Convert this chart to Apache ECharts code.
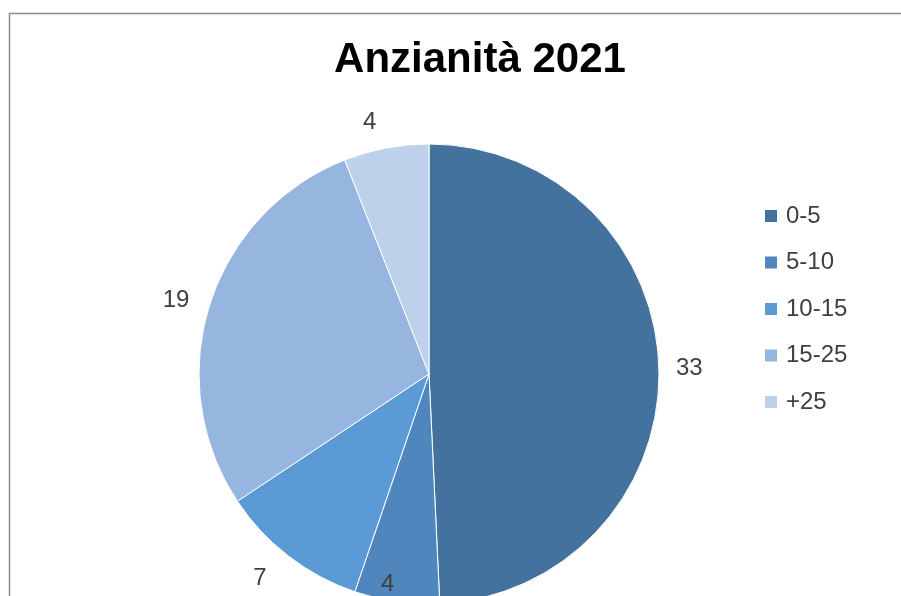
<!DOCTYPE html>
<html>
<head>
<meta charset="utf-8">
<script src="https://cdn.jsdelivr.net/npm/echarts@6/dist/echarts.min.js"></script>
<style>
html,body{margin:0;padding:0;background:#fff;}
#chart{width:901px;height:596px;}
</style>
</head>
<body>
<div id="chart"></div>
<script>
const categories = ['0-5', '5-10', '10-15', '15-25', '+25'];
const values = [33, 4, 7, 19, 4];
const colors = ['#43729E', '#4E86BD', '#5B9BD5', '#97B6DF', '#BED1EB'];
const titleText = 'Anzianità 2021';
// distance of each value label from the pie edge (style only)
const labelGaps = [12, -18, 28, 16, 26];

const chart = echarts.init(document.getElementById('chart'));
chart.setOption({
  backgroundColor: '#ffffff',
  animation: false,
  graphic: [{
    type: 'rect',
    shape: { x: 9.5, y: 13.5, width: 1000, height: 1000 },
    style: { fill: 'none', stroke: '#8c8c8c', lineWidth: 1.5 },
    silent: true
  }],
  title: {
    text: titleText,
    left: 475,
    top: 34,
    textAlign: 'center',
    textStyle: { fontFamily: 'Liberation Sans', fontWeight: 'bold', fontSize: 42, color: '#000000' }
  },
  legend: {
    orient: 'vertical',
    left: 758,
    top: 199,
    icon: 'rect',
    itemWidth: 14,
    itemHeight: 14,
    itemGap: 22.5,
    data: categories,
    textStyle: { fontFamily: 'Liberation Sans', fontSize: 24, color: '#404040', padding: [0, 0, 0, 3] }
  },
  series: [{
    type: 'pie',
    center: [429, 374],
    radius: 230,
    startAngle: 90,
    clockwise: true,
    avoidLabelOverlap: false,
    itemStyle: { borderColor: '#ffffff', borderWidth: 1 },
    label: {
      show: true,
      position: 'outside',
      formatter: '{c}',
      fontFamily: 'Liberation Sans',
      fontSize: 24,
      color: '#404040'
    },
    labelLine: { show: false, length: 22, length2: 0 },
    emphasis: { disabled: true },
    data: categories.map((c, i) => ({
      name: c,
      value: values[i],
      itemStyle: { color: colors[i] },
      labelLine: { show: false, length: labelGaps[i], length2: 0 }
    }))
  }]
});
</script>
</body>
</html>
